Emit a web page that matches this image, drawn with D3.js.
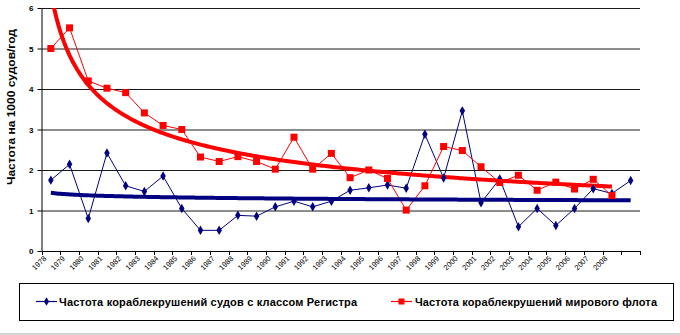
<!DOCTYPE html>
<html><head><meta charset="utf-8">
<script src="https://cdn.jsdelivr.net/npm/d3@7"></script>
<style>
html,body{margin:0;padding:0;background:#fff;}
svg{display:block;font-family:"Liberation Sans",Arial,sans-serif;}
</style></head>
<body><svg id="c" width="680" height="335"></svg>
<script>
const categories = ["1978","1979","1980","1981","1982","1983","1984","1985","1986","1987","1988","1989","1990","1991","1992","1993","1994","1995","1996","1997","1998","1999","2000","2001","2002","2003","2004","2005","2006","2007","2008",""];
const registerRate = [1.75,2.14,0.80,2.42,1.61,1.47,1.85,1.05,0.51,0.51,0.88,0.86,1.09,1.23,1.09,1.23,1.50,1.56,1.63,1.55,2.88,1.80,3.46,1.19,1.78,0.60,1.05,0.63,1.05,1.54,1.42,1.74];
const worldRate = [5.00,5.51,4.20,4.02,3.91,3.41,3.10,3.00,2.32,2.21,2.33,2.21,2.02,2.81,2.02,2.41,1.81,2.00,1.79,1.01,1.61,2.58,2.48,2.08,1.69,1.87,1.50,1.70,1.53,1.77,1.37];
const yTicks = [0,1,2,3,4,5,6];
const seriesNames = ["Частота кораблекрушений судов с классом Регистра","Частота кораблекрушений мирового флота"];
const yTitle = "Частота на 1000 судов/год";

const svg = d3.select("#c");
const L = 41.5, R = 640, T = 8, B = 251;
const x = d3.scaleBand().domain(d3.range(categories.length)).range([L, R]);
const cx = i => x(i) + x.bandwidth()/2;
const y = d3.scaleLinear().domain([0,6]).range([B, T]);

// power trend fit (least squares on logs), x = 1..n
function powerFit(vals){
  const n = vals.length;
  let sx=0, sy=0, sxx=0, sxy=0;
  vals.forEach((v,i)=>{const lx=Math.log(i+1), ly=Math.log(v); sx+=lx; sy+=ly; sxx+=lx*lx; sxy+=lx*ly;});
  const b = (n*sxy - sx*sy)/(n*sxx - sx*sx);
  const a = Math.exp((sy - b*sx)/n);
  return {a,b};
}

svg.append("defs").append("clipPath").attr("id","plot")
  .append("rect").attr("x",L).attr("y",T).attr("width",R-L).attr("height",B-T);

// gridlines
svg.append("g").selectAll("line").data(yTicks.filter(t=>t>0)).join("line")
  .attr("x1",L).attr("x2",R).attr("y1",d=>y(d)+0.5).attr("y2",d=>y(d)+0.5)
  .attr("stroke","#1a1a1a").attr("stroke-width",1);

// y axis
const yAx = svg.append("g").attr("transform",`translate(${L},0)`)
  .call(d3.axisLeft(y).tickValues(yTicks).tickSize(4).tickPadding(4).tickFormat(d3.format("d")));
yAx.select(".domain").attr("stroke","#000").attr("d",`M0.5,${T}V${B}`);
yAx.selectAll(".tick line").attr("stroke","#000");
yAx.selectAll("text").attr("font-size",8).attr("font-weight","bold").attr("fill","#000");

// x axis line & ticks
const xg = svg.append("g");
xg.append("line").attr("x1",L).attr("x2",R).attr("y1",B+0.5).attr("y2",B+0.5).attr("stroke","#000");
xg.selectAll("line.tk").data(d3.range(categories.length+1)).join("line").attr("class","tk")
  .attr("x1",i=>Math.round(L + i*x.step())+0.5).attr("x2",i=>Math.round(L + i*x.step())+0.5)
  .attr("y1",B).attr("y2",B+4).attr("stroke","#000");
xg.selectAll("text").data(categories).join("text")
  .attr("transform",(d,i)=>`translate(${cx(i)-4},${B+8}) rotate(-45)`)
  .attr("text-anchor","end").attr("font-size",7.5).attr("fill","#000").text(d=>d);

// y title
svg.append("text").attr("transform","translate(15,107) rotate(-90)")
  .attr("text-anchor","middle").attr("font-size",11.5).attr("font-weight","bold").attr("fill","#000")
  .attr("textLength",156).attr("lengthAdjust","spacingAndGlyphs").text(yTitle);

const line = d3.line().x((d,i)=>cx(i)).y(d=>y(d));
const plot = svg.append("g").attr("clip-path","url(#plot)");

// series lines
plot.append("path").attr("d",line(registerRate)).attr("fill","none").attr("stroke","#000080").attr("stroke-width",1);
plot.append("path").attr("d",line(worldRate)).attr("fill","none").attr("stroke","#ff0000").attr("stroke-width",1);

// markers
svg.append("g").selectAll("path").data(registerRate).join("path")
  .attr("transform",(d,i)=>`translate(${cx(i)},${y(d)})`)
  .attr("d", d3.symbol().type(d3.symbolDiamond).size(26)).attr("fill","#000080");
svg.append("g").selectAll("rect").data(worldRate).join("rect")
  .attr("x",(d,i)=>cx(i)-3.5).attr("y",d=>y(d)-3.5).attr("width",7).attr("height",7).attr("fill","#ff0000");

// trend lines
function trendPath(vals, nLast){
  const f = powerFit(vals);
  const pts = d3.range(0, 301).map(k=>{const t = 1 + (nLast-1)*k/300; return [cx(0) + (t-1)*x.step(), y(f.a*Math.pow(t,f.b))];});
  return d3.line()(pts);
}
plot.append("path").attr("d",trendPath(registerRate, registerRate.length)).attr("fill","none").attr("stroke","#000080").attr("stroke-width",4);
plot.append("path").attr("d",trendPath(worldRate, worldRate.length)).attr("fill","none").attr("stroke","#ff0000").attr("stroke-width",4);

// legend
const lg = svg.append("g");
lg.append("rect").attr("x",19.5).attr("y",283.5).attr("width",654).attr("height",37).attr("fill","#fff").attr("stroke","#000").attr("stroke-width",1);
const legendItems = [
  {x0:36, color:"#000080", type:"diamond", name:seriesNames[0], tx:59, w:298},
  {x0:391, color:"#ff0000", type:"square", name:seriesNames[1], tx:415, w:242}
];
legendItems.forEach(it=>{
  lg.append("line").attr("x1",it.x0).attr("x2",it.x0+21).attr("y1",301.5).attr("y2",301.5).attr("stroke",it.color).attr("stroke-width",1.2);
  if(it.type==="diamond") lg.append("path").attr("transform",`translate(${it.x0+10.5},301.5)`).attr("d",d3.symbol().type(d3.symbolDiamond).size(22)).attr("fill",it.color);
  else lg.append("rect").attr("x",it.x0+7.5).attr("y",298.5).attr("width",6).attr("height",6).attr("fill",it.color);
  lg.append("text").attr("x",it.tx).attr("y",305.5).attr("font-size",11).attr("font-weight","bold").attr("fill","#000")
    .attr("textLength",it.w).attr("lengthAdjust","spacing").text(it.name);
});
// bottom border
svg.append("line").attr("x1",0).attr("x2",680).attr("y1",334).attr("y2",334).attr("stroke","#aaa");
</script></body></html>
